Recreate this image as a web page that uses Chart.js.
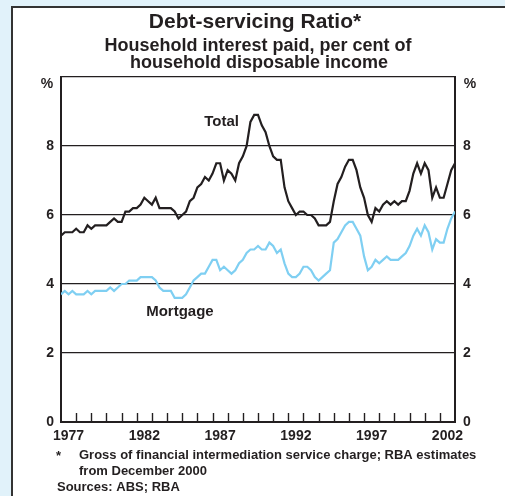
<!DOCTYPE html>
<html>
<head>
<meta charset="utf-8">
<script src="https://cdn.jsdelivr.net/npm/chart.js@4.4.0/dist/chart.umd.min.js"></script>
<style>
  html, body { margin: 0; padding: 0; overflow: hidden; background: #e1f2fa; }
  #panel { position: absolute; left: 11px; top: 6px; width: 494px; height: 490px; background: #fff;
           border-left: 2px solid #333; border-top: 2px solid #333; }
  #wrap { position: absolute; left: 0; top: 0; width: 505px; height: 496px; }
</style>
</head>
<body>
<div id="panel"></div>
<div id="wrap"><canvas id="chart"></canvas></div>
<script>
// quarterly series, starting 1977
const startYear = 1977;
const step = 0.25;

// Total debt-servicing ratio (%)
const total = [
  5.4, 5.5, 5.5, 5.5, 5.6, 5.5, 5.5, 5.7, 5.6, 5.7,
  5.7, 5.7, 5.7, 5.8, 5.9, 5.8, 5.8, 6.1, 6.1, 6.2,
  6.2, 6.3, 6.5, 6.4, 6.3, 6.5, 6.2, 6.2, 6.2, 6.2,
  6.1, 5.9, 6.0, 6.1, 6.4, 6.5, 6.8, 6.9, 7.1, 7.0,
  7.2, 7.5, 7.5, 7.0, 7.3, 7.2, 7.0, 7.5, 7.7, 8.0,
  8.7, 8.9, 8.9, 8.6, 8.4, 8.0, 7.7, 7.6, 7.6, 6.8,
  6.4, 6.2, 6.0, 6.1, 6.1, 6.0, 6.0, 5.9, 5.7, 5.7,
  5.7, 5.8, 6.4, 6.9, 7.1, 7.4, 7.6, 7.6, 7.3, 6.8,
  6.5, 6.0, 5.8, 6.2, 6.1, 6.3, 6.4, 6.3, 6.4, 6.3,
  6.4, 6.4, 6.7, 7.2, 7.5, 7.2, 7.5, 7.3, 6.5, 6.8,
  6.5, 6.5, 6.9, 7.3, 7.5
];

// Mortgage interest (%)
const mortgage = [
  3.7, 3.8, 3.7, 3.8, 3.7, 3.7, 3.7, 3.8, 3.7, 3.8,
  3.8, 3.8, 3.8, 3.9, 3.8, 3.9, 4.0, 4.0, 4.1, 4.1,
  4.1, 4.2, 4.2, 4.2, 4.2, 4.1, 3.9, 3.8, 3.8, 3.8,
  3.6, 3.6, 3.6, 3.7, 3.9, 4.1, 4.2, 4.3, 4.3, 4.5,
  4.7, 4.7, 4.4, 4.5, 4.4, 4.3, 4.4, 4.6, 4.7, 4.9,
  5.0, 5.0, 5.1, 5.0, 5.0, 5.2, 5.1, 4.9, 5.0, 4.6,
  4.3, 4.2, 4.2, 4.3, 4.5, 4.5, 4.4, 4.2, 4.1, 4.2,
  4.3, 4.4, 5.2, 5.3, 5.5, 5.7, 5.8, 5.8, 5.6, 5.4,
  4.8, 4.4, 4.5, 4.7, 4.6, 4.7, 4.8, 4.7, 4.7, 4.7,
  4.8, 4.9, 5.1, 5.4, 5.6, 5.4, 5.7, 5.5, 5.0, 5.3,
  5.2, 5.2, 5.6, 5.9, 6.1
];

const yearLabels = [1977, 1982, 1987, 1992, 1997, 2002];
const yTicks = [0, 2, 4, 6, 8, 10];

const ink = '#231f20';
const blue = '#7fcff2';
const fontFamily = '"Liberation Sans", Arial, sans-serif';
const boldFont = (size) => ({ family: 'Liberation Sans, Arial, sans-serif', size: size, weight: 'bold' });

const toPoints = (arr) => arr.map((v, i) => ({ x: startYear + i * step, y: v }));

const decor = {
  id: 'decor',
  afterDraw(chart) {
    const ctx = chart.ctx;
    const xs = chart.scales.x, ys = chart.scales.y;
    const area = chart.chartArea;
    ctx.save();

    // year tick marks, pointing up inside the plot
    ctx.strokeStyle = ink;
    ctx.lineWidth = 1.4;
    for (let yr = startYear + 1; yr < 2003; yr++) {
      const px = Math.round(xs.getPixelForValue(yr)) + 0.5;
      ctx.beginPath();
      ctx.moveTo(px, area.bottom);
      ctx.lineTo(px, area.bottom - 9);
      ctx.stroke();
    }

    ctx.fillStyle = ink;
    ctx.textAlign = 'center';
    ctx.textBaseline = 'middle';

    // titles
    ctx.font = 'bold 21px ' + fontFamily;
    ctx.fillText('Debt-servicing Ratio*', 255, 22);
    ctx.font = 'bold 18px ' + fontFamily;
    ctx.fillText('Household interest paid, per cent of', 258, 46);
    ctx.fillText('household disposable income', 259, 63);

    // unit labels
    ctx.font = 'bold 14px ' + fontFamily;
    ctx.fillText('%', 47, 84);
    ctx.fillText('%', 470, 84);

    // series labels
    ctx.font = 'bold 15px ' + fontFamily;
    ctx.fillText('Total', xs.getPixelForValue(1987.6), ys.getPixelForValue(8.7));
    ctx.fillText('Mortgage', xs.getPixelForValue(1984.85), ys.getPixelForValue(3.2));

    // footnotes
    ctx.textAlign = 'left';
    ctx.font = 'bold 13px ' + fontFamily;
    ctx.fillText('*', 56, 456);
    ctx.fillText('Gross of financial intermediation service charge; RBA estimates', 79, 455);
    ctx.fillText('from December 2000', 79, 471);
    ctx.fillText('Sources: ABS; RBA', 57, 487);
    ctx.restore();
  }
};

new Chart(document.getElementById('chart'), {
  type: 'line',
  data: {
    datasets: [
      {
        label: 'Total',
        data: toPoints(total),
        borderColor: ink,
        borderWidth: 2.2,
        pointRadius: 0,
        tension: 0,
        yAxisID: 'y'
      },
      {
        label: 'Mortgage',
        data: toPoints(mortgage),
        borderColor: blue,
        borderWidth: 2.2,
        pointRadius: 0,
        tension: 0,
        yAxisID: 'y'
      }
    ]
  },
  options: {
    responsive: true,
    maintainAspectRatio: false,
    animation: false,
    layout: { padding: { top: 77, left: 0, right: 0, bottom: 0 } },
    plugins: {
      legend: { display: false },
      tooltip: { enabled: false }
    },
    scales: {
      x: {
        type: 'linear',
        min: 1977,
        max: 2003,
        grid: { display: false, drawTicks: false },
        border: { display: true, color: ink, width: 2 },
        afterBuildTicks: (scale) => {
          scale.ticks = yearLabels.map((y) => ({ value: y + 0.5 }));
        },
        afterFit: (scale) => { scale.height = 74; },
        ticks: {
          autoSkip: false,
          maxRotation: 0,
          padding: 6,
          color: ink,
          font: boldFont(14),
          callback: (v) => String(Math.floor(v))
        }
      },
      y: {
        position: 'left',
        min: 0,
        max: 10,
        afterBuildTicks: (scale) => {
          scale.ticks = yTicks.map((v) => ({ value: v }));
        },
        afterFit: (scale) => { scale.width = 61; },
        grid: { color: ink, lineWidth: 1.3, drawTicks: false },
        border: { display: true, color: ink, width: 2 },
        ticks: {
          padding: 7,
          color: ink,
          font: boldFont(14),
          callback: (v) => (v === 10 ? '' : String(v))
        }
      },
      y2: {
        position: 'right',
        min: 0,
        max: 10,
        afterBuildTicks: (scale) => {
          scale.ticks = yTicks.map((v) => ({ value: v }));
        },
        afterFit: (scale) => { scale.width = 50; },
        grid: { display: false, drawTicks: false },
        border: { display: true, color: ink, width: 2 },
        ticks: {
          padding: 8,
          color: ink,
          font: boldFont(14),
          callback: (v) => (v === 10 ? '' : String(v))
        }
      }
    }
  },
  plugins: [decor]
});
</script>
</body>
</html>
